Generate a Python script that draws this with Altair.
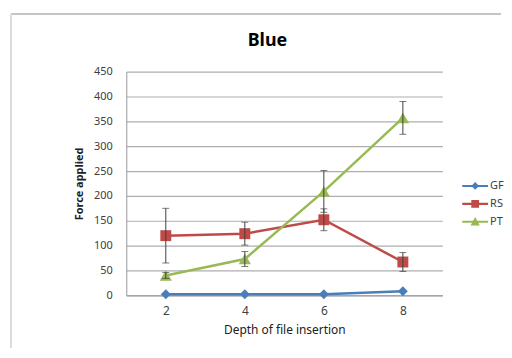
import altair as alt
import pandas as pd

depth = [2, 4, 6, 8]
series = ["GF", "RS", "PT"]
gf_values = [2, 2, 2, 8]
gf_errors = [0, 0, 0, 0]
rs_values = [120, 124, 152, 67]
rs_errors = [55, 23, 22, 19]
pt_values = [40, 73, 209, 357]
pt_errors = [6, 15, 42, 33]

colors = ["#4a7ebb", "#be4b48", "#98b954"]
markers = ["diamond", "square", "triangle-up"]
marker_sizes = [100, 121, 150]
legend_paths = [
    "M-1,-0.08H1V0.08H-1Z M0,-0.3L0.3,0L0,0.3L-0.3,0Z",
    "M-1,-0.08H1V0.08H-1Z M-0.3,-0.3H0.3V0.3H-0.3Z",
    "M-1,-0.08H1V0.08H-1Z M0,-0.36L0.36,0.3H-0.36Z",
]

rows = []
for name, vals, errs in [("GF", gf_values, gf_errors), ("RS", rs_values, rs_errors), ("PT", pt_values, pt_errors)]:
    for d, v, e in zip(depth, vals, errs):
        rows.append({"Depth": d, "Force": v, "Series": name, "lo": v - e, "hi": v + e, "err": e})
df = pd.DataFrame(rows)

FONT = "Noto Sans"
TXT = "#404040"

x_enc = alt.X(
    "Depth:O",
    scale=alt.Scale(type="point", padding=0.5),
    axis=alt.Axis(
        title="Depth of file insertion", labelAngle=0, ticks=False, domainColor="#9a9a9a",
        labelFontSize=12, labelColor=TXT, labelPadding=10, titleFontSize=12,
        titleFontWeight="normal", titleColor="#202020", titlePadding=8, grid=False,
        labelFont=FONT, titleFont=FONT,
    ),
)
y_scale = alt.Scale(domain=[0, 450], nice=False)
y_axis = alt.Axis(
    title="Force applied", values=list(range(0, 451, 50)), ticks=False,
    domainColor="#9a9a9a", gridColor="#aeaeae", gridWidth=1.2, labelOverlap=False,
    labelFontSize=11, labelColor=TXT, labelPadding=14, titleFontSize=11,
    titleFontWeight="bold", titleColor="#202020", titlePadding=9,
    labelFont=FONT, titleFont=FONT,
)


def y_enc(field):
    return alt.Y(field, scale=y_scale, axis=y_axis)


color_scale = alt.Scale(domain=series, range=colors)
base = alt.Chart(df)

line_layers = []
point_layers = []
for name, mk, sz, col in zip(series, markers, marker_sizes, colors):
    sub = base.transform_filter(alt.datum.Series == name)
    line_layers.append(
        sub.mark_line(strokeWidth=2.5, color=col).encode(
            x=x_enc, y=y_enc("Force:Q"), order="Depth:O"
        )
    )
    point_layers.append(
        sub.mark_point(filled=True, opacity=1, shape=mk, size=sz, color=col).encode(
            x=x_enc, y=y_enc("Force:Q")
        )
    )

err_base = base.transform_filter(alt.datum.err > 0)
err_rules = err_base.mark_rule(color="#404040", strokeWidth=1).encode(
    x=x_enc, y=y_enc("lo:Q"), y2="hi:Q"
)
err_caps = err_base.transform_fold(["lo", "hi"], as_=["k", "v"]).mark_tick(
    color="#404040", thickness=1, size=7, orient="horizontal"
).encode(x=x_enc, y=y_enc("v:Q"))

legend_def = alt.Legend(
    title=None, orient="none", legendX=338, legendY=102, symbolSize=676,
    symbolOpacity=1, symbolStrokeWidth=0, labelFontSize=11, labelColor=TXT,
    labelFont=FONT, labelOffset=2, rowPadding=0, padding=0,
)
legend_layer = base.mark_point(filled=True, opacity=0).encode(
    x=x_enc,
    y=y_enc("Force:Q"),
    shape=alt.Shape("Series:N", scale=alt.Scale(domain=series, range=legend_paths), legend=legend_def),
    color=alt.Color("Series:N", scale=color_scale, legend=legend_def),
)

frame_data = alt.Data(values=[{"a": 1}])
top_border = alt.Chart(frame_data).mark_rule(color="#8a8a8a", strokeWidth=1).encode(
    x=alt.value(-116), x2=alt.value(377), y=alt.value(-58)
)
left_border = alt.Chart(frame_data).mark_rule(color="#dcdcdc", strokeWidth=2).encode(
    x=alt.value(-116), y=alt.value(-58), y2=alt.value(278)
)

chart = alt.layer(
    *line_layers, *point_layers, err_rules, err_caps, legend_layer, top_border, left_border
).properties(
    width=318,
    height=225,
    padding={"left": 2, "top": 4, "right": 0, "bottom": 0},
    title=alt.TitleParams(
        "Blue", fontSize=18, fontWeight="bold", font=FONT, color="#000000",
        anchor="middle", dx=-17, offset=16, dy=53,
    ),
).configure_view(stroke=None)

chart.save("out.html", embed_options={"renderer": "svg", "actions": False})
